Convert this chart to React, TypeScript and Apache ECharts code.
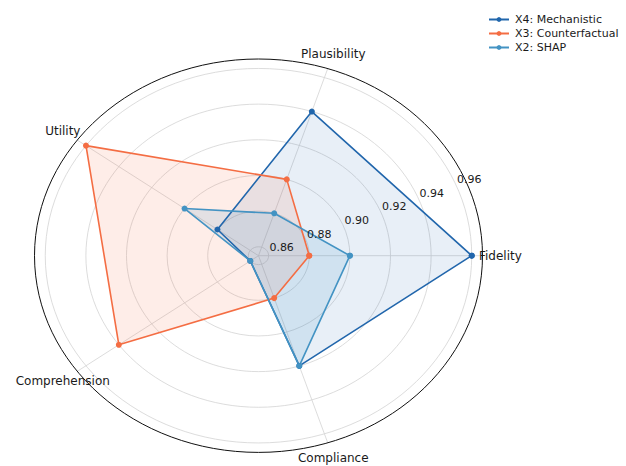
import React, { useEffect, useRef } from "react";
import * as echarts from "echarts";

const AXES = ["Fidelity", "Plausibility", "Utility", "Comprehension", "Compliance"];
const ANGLES_DEG = [0, 72, 144, 216, 288];
const X4_MECH = [0.96, 0.94, 0.88, 0.86, 0.92];
const X3_CF = [0.88, 0.9, 0.96, 0.94, 0.88];
const X2_SHAP = [0.9, 0.88, 0.9, 0.86, 0.92];
const R_TICKS = [0.86, 0.88, 0.9, 0.92, 0.94, 0.96];
const R_TICK_LABELS = ["0.86", "0.88", "0.90", "0.92", "0.94", "0.96"];
const R_MIN = 0.855;
const R_MAX = 0.9653;

const SERIES = [
  { name: "X4: Mechanistic", values: X4_MECH, color: "#2166ac", fill: "rgba(33,102,172,0.10)" },
  { name: "X3: Counterfactual", values: X3_CF, color: "#f46d43", fill: "rgba(244,109,67,0.12)" },
  { name: "X2: SHAP", values: X2_SHAP, color: "#4393c3", fill: "rgba(67,147,195,0.14)" },
];

const FONT = "DejaVu Sans";

function norm(v: number) {
  return (v - R_MIN) / (R_MAX - R_MIN);
}
function toXY(rn: number, deg: number): [number, number] {
  const a = (deg * Math.PI) / 180;
  return [rn * Math.cos(a), rn * Math.sin(a)];
}

export default function App() {
  const ref = useRef<HTMLDivElement>(null);
  useEffect(() => {
    if (!ref.current) return;
    const chart = echarts.init(ref.current, undefined, { renderer: "svg" });

    const series: any[] = [];

    // grid rings
    series.push({
      type: "custom",
      coordinateSystem: "cartesian2d",
      silent: true,
      clip: false,
      z: 1,
      data: R_TICKS.map(() => [0, 0]),
      renderItem: (params: any, api: any) => {
        const v = R_TICKS[params.dataIndex];
        const c = api.coord([0, 0]);
        const s = api.size([norm(v), norm(v)]);
        return {
          type: "ellipse",
          shape: { cx: c[0], cy: c[1], rx: s[0], ry: s[1] },
          style: { fill: "none", stroke: "#d3d3d3", lineWidth: 0.8 },
        };
      },
    });
    // spokes
    series.push({
      type: "custom",
      coordinateSystem: "cartesian2d",
      silent: true,
      clip: false,
      z: 1,
      data: ANGLES_DEG.map(() => [0, 0]),
      renderItem: (params: any, api: any) => {
        const c = api.coord([0, 0]);
        const e = api.coord(toXY(1, ANGLES_DEG[params.dataIndex]));
        return {
          type: "line",
          shape: { x1: c[0], y1: c[1], x2: e[0], y2: e[1] },
          style: { stroke: "#d3d3d3", lineWidth: 0.8 },
        };
      },
    });
    // outer frame
    series.push({
      type: "custom",
      coordinateSystem: "cartesian2d",
      silent: true,
      clip: false,
      z: 2,
      data: [[0, 0]],
      renderItem: (params: any, api: any) => {
        const c = api.coord([0, 0]);
        const s = api.size([1, 1]);
        return {
          type: "ellipse",
          shape: { cx: c[0], cy: c[1], rx: s[0], ry: s[1] },
          style: { fill: "none", stroke: "#111", lineWidth: 1 },
        };
      },
    });

    // fills
    SERIES.forEach((sd, i) => {
      const pts = sd.values.map((v, k) => toXY(norm(v), ANGLES_DEG[k]));
      series.push({
        type: "custom",
        name: "fill" + i,
        coordinateSystem: "cartesian2d",
        silent: true,
        clip: false,
        z: 3,
        data: [[0, 0]],
        renderItem: (params: any, api: any) => ({
          type: "polygon",
          shape: { points: pts.map((p) => api.coord(p)) },
          style: { fill: sd.fill, stroke: "none" },
        }),
      });
    });

    // lines
    SERIES.forEach((sd) => {
      const pts = sd.values.map((v, k) => toXY(norm(v), ANGLES_DEG[k]));
      series.push({
        type: "line",
        name: sd.name,
        data: [...pts, pts[0]],
        symbol: "circle",
        symbolSize: 6,
        showSymbol: true,
        clip: false,
        z: 5,
        lineStyle: { color: sd.color, width: 1.6 },
        itemStyle: { color: sd.color },
        emphasis: { disabled: true },
      });
    });

    // radial tick labels
    series.push({
      type: "custom",
      coordinateSystem: "cartesian2d",
      silent: true,
      clip: false,
      z: 8,
      data: R_TICKS.map(() => [0, 0]),
      renderItem: (params: any, api: any) => {
        const v = R_TICKS[params.dataIndex];
        const p = api.coord(toXY(norm(v), 22.5));
        return {
          type: "text",
          x: p[0] + 1.5,
          y: p[1] + 1,
          style: {
            text: R_TICK_LABELS[params.dataIndex],
            fill: "#1a1a1a",
            font: `11px "${FONT}"`,
            align: "left",
            verticalAlign: "bottom",
          },
        };
      },
    });
    // axis labels
    series.push({
      type: "custom",
      coordinateSystem: "cartesian2d",
      silent: true,
      clip: false,
      z: 8,
      data: AXES.map(() => [0, 0]),
      renderItem: (params: any, api: any) => {
        const p = api.coord(toXY(1.08, ANGLES_DEG[params.dataIndex]));
        return {
          type: "text",
          x: p[0],
          y: p[1],
          style: {
            text: AXES[params.dataIndex],
            fill: "#1a1a1a",
            font: `12px "${FONT}"`,
            align: "center",
            verticalAlign: "middle",
          },
        };
      },
    });

    chart.setOption({
      animation: false,
      backgroundColor: "#ffffff",
      grid: {
        left: 34.5,
        top: 59,
        width: 448,
        height: 393.4,
        containLabel: false,
        outerBoundsMode: "none",
      },
      xAxis: { type: "value", min: -1, max: 1, show: false, splitLine: { show: false } },
      yAxis: { type: "value", min: -1, max: 1, show: false, splitLine: { show: false } },
      legend: {
        data: SERIES.map((s) => s.name),
        orient: "vertical",
        left: 483,
        top: 9,
        itemWidth: 20,
        itemHeight: 6,
        itemGap: 3,
        textStyle: {
          fontFamily: FONT,
          fontSize: 11,
          color: "#1a1a1a",
          lineHeight: 11,
          padding: [0, 0, 0, 1],
        },
        selectedMode: false,
      },
      series,
    });

    return () => chart.dispose();
  }, []);

  return (
    <div
      ref={ref}
      style={{ position: "fixed", left: 0, top: 0, width: 626, height: 466 }}
    />
  );
}
